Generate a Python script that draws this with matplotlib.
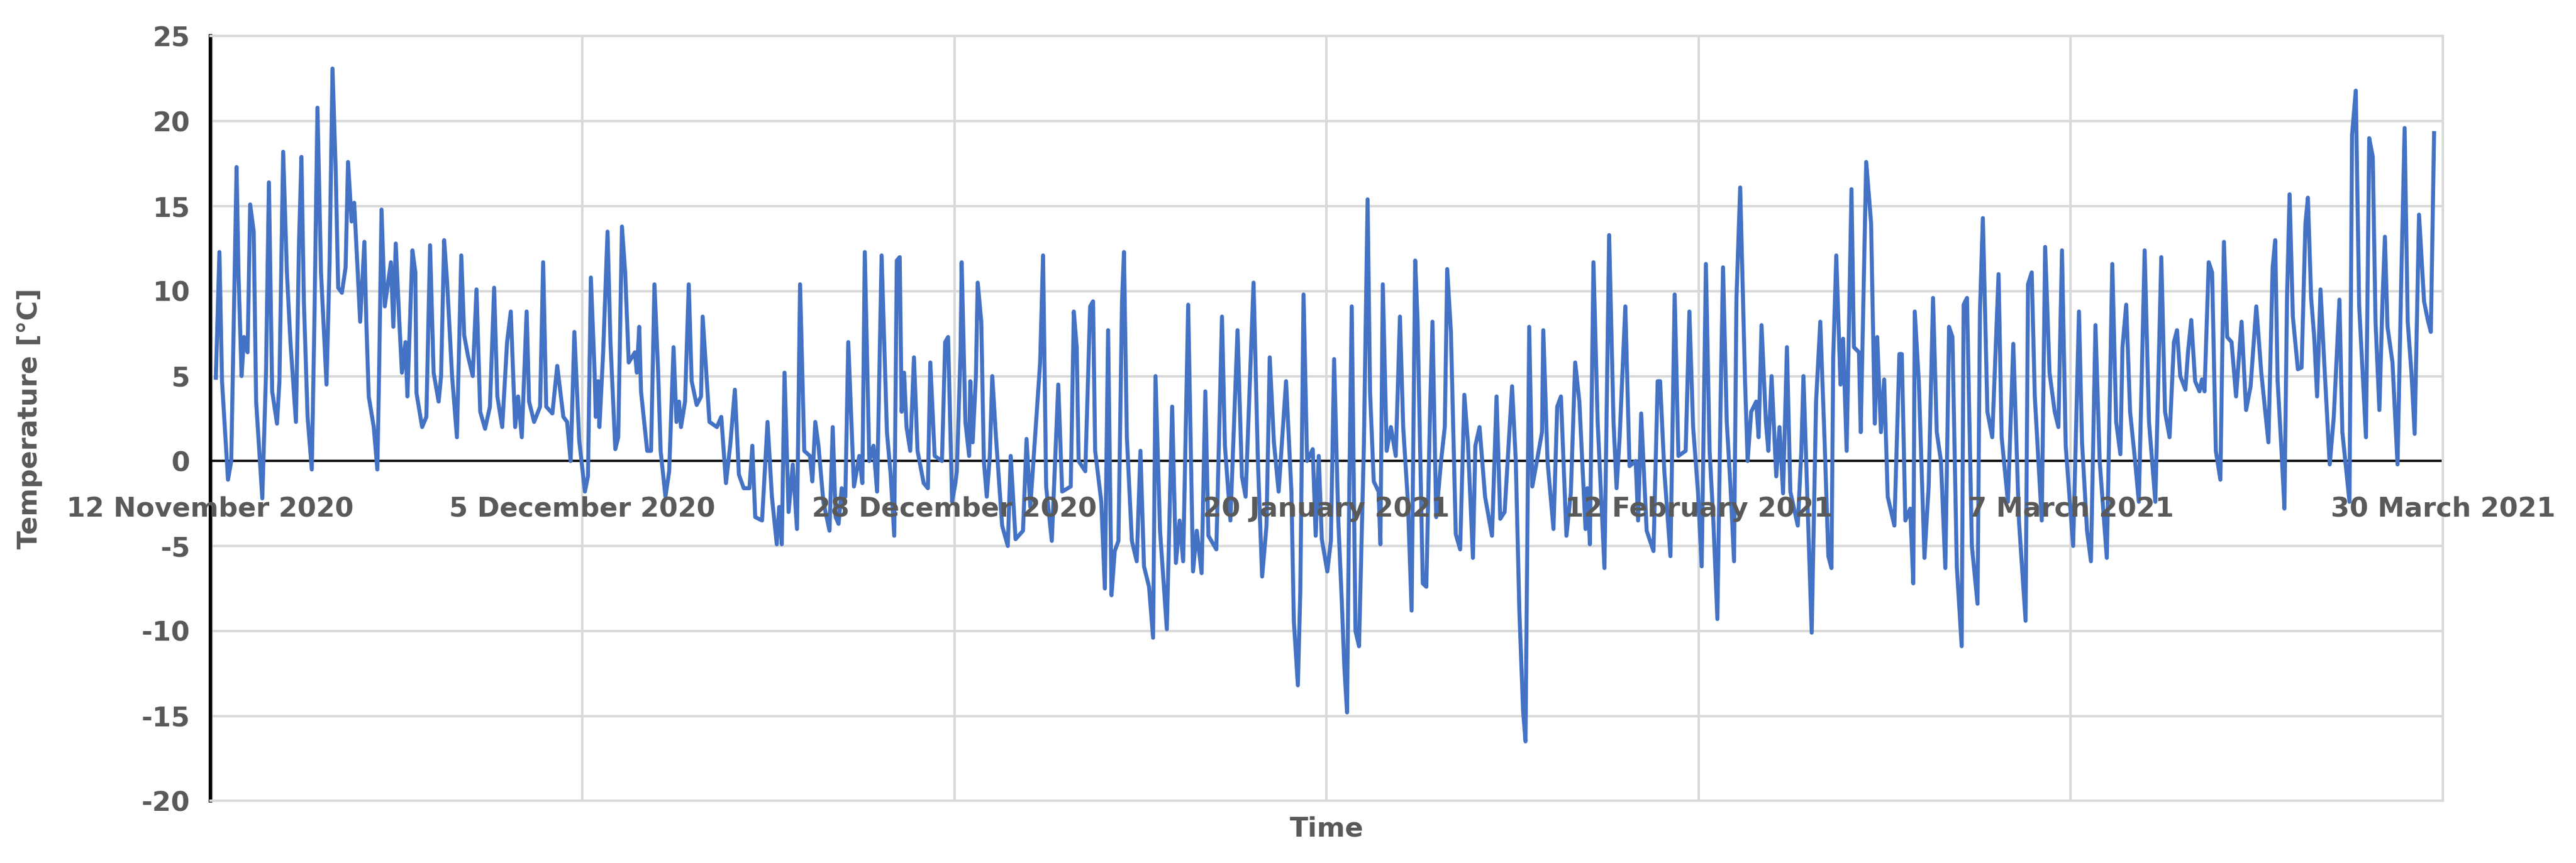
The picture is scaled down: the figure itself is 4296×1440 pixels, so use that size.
import matplotlib
matplotlib.use("Agg")
import matplotlib.pyplot as plt
import numpy as np

plt.rcParams["axes.unicode_minus"] = False

tick_days = [0, 23, 46, 69, 92, 115, 138]
tick_labels = ["12 November 2020", "5 December 2020", "28 December 2020", "20 January 2021",
               "12 February 2021", "7 March 2021", "30 March 2021"]

seg0_days = [0.35,0.57,0.73,1.10,1.30,1.63,1.75,1.94,2.09,2.31,2.47,2.69,2.84,3.22,3.45,3.63,3.83,4.13,4.28,4.51,4.74,4.96,5.30,5.49,5.64,5.79,6.02,6.28,6.44,6.63,6.85,7.19,7.38,7.56,7.76,7.91,8.14,8.37,8.52,8.74,8.90,9.12,9.27,9.53,9.65,9.80,10.11,10.33,10.44,10.59,10.79,11.17,11.32,11.47,11.69,11.85,12.07,12.19,12.50,12.68,12.75,13.10,13.36,13.59,13.81,14.12,14.27,14.46,14.64,14.95,15.25,15.52,15.70,15.93,16.23,16.46,16.69,16.99,17.29,17.55,17.75,18.05,18.35,18.58,18.85,19.03,19.26,19.56,19.71,20.02,20.39,20.58,20.77,21.15,21.45,21.83,22.06,22.28,22.51,22.81,23.16]
seg0_temp = [4.9,12.3,4.7,-1.1,0.0,17.3,11.0,5.0,7.3,6.4,15.1,13.5,3.5,-2.2,5.2,16.4,4.1,2.2,4.7,18.2,11.1,7.0,2.3,12.9,17.9,9.4,2.6,-0.5,8.2,20.8,11.1,4.5,11.7,23.1,17.0,10.2,9.9,11.4,17.6,14.1,15.2,11.1,8.2,12.9,8.2,3.8,2.0,-0.5,5.2,14.8,9.1,11.7,7.9,12.8,8.2,5.2,7.0,3.8,12.4,11.1,4.0,2.0,2.6,12.7,5.2,3.5,5.0,13.0,10.6,5.0,1.4,12.1,7.4,6.2,5.0,10.1,2.9,1.9,3.2,10.2,3.8,2.0,7.0,8.8,2.0,3.8,1.4,8.8,3.5,2.3,3.2,11.7,3.2,2.8,5.6,2.6,2.3,0.0,7.6,1.2,-1.8]

seg1_days = [23.35,23.53,23.76,23.83,23.98,24.06,24.29,24.56,24.74,25.04,25.22,25.45,25.65,25.87,26.25,26.37,26.52,26.63,27.01,27.25,27.46,27.69,27.84,28.14,28.37,28.64,28.82,28.98,29.10,29.35,29.58,29.76,30.07,30.34,30.44,30.86,31.32,31.59,31.88,32.15,32.43,32.68,32.98,33.33,33.51,33.69,34.11,34.45,34.72,35.02,35.17,35.33,35.50,35.75,36.01,36.27,36.46,36.72,37.07,37.22,37.40,37.60,37.90,38.28,38.48,38.66,38.84,39.03,39.26,39.44,39.79,40.12,40.31,40.46,40.74,41.00,41.22,41.50,41.83,42.06,42.28,42.44,42.62,42.74,42.89,43.04,43.27,43.50,43.72,44.10,44.36,44.51,44.78,45.23,45.43,45.61,45.86,46.06]
seg1_temp = [-0.9,10.8,5.2,2.6,4.7,2.0,6.4,13.5,7.0,0.7,1.4,13.8,11.1,5.8,6.4,5.2,7.9,4.1,0.6,0.6,10.4,5.2,0.6,-2.1,-0.6,6.7,2.3,3.5,2.0,3.5,10.4,4.7,3.3,3.8,8.5,2.3,2.0,2.6,-1.3,1.0,4.2,-0.8,-1.6,-1.6,0.9,-3.3,-3.5,2.3,-2.1,-4.9,-2.7,-4.9,5.2,-3.0,-0.2,-4.0,10.4,0.6,0.3,-1.2,2.3,0.9,-2.4,-4.1,2.0,-3.3,-3.7,-1.6,-2.1,7.0,-1.5,0.3,-1.3,12.3,0.0,0.9,-1.8,12.1,1.7,-0.8,-4.4,11.8,12.0,2.9,5.2,2.0,0.6,6.1,0.6,-1.3,-1.6,5.8,0.3,0.0,7.0,7.3,-2.4,-1.3]

seg2_days = [46.15,46.38,46.45,46.68,46.91,46.98,47.13,47.33,47.44,47.66,47.82,48.00,48.19,48.34,48.57,48.95,49.30,49.48,49.78,50.24,50.46,50.69,51.30,51.48,51.67,52.02,52.42,52.66,53.19,53.38,53.56,53.68,54.09,54.39,54.57,54.70,55.08,55.30,55.50,55.71,55.91,56.14,56.36,56.48,56.66,56.97,57.27,57.50,57.72,58.03,58.28,58.43,58.71,59.13,59.46,59.69,59.92,60.14,60.45,60.75,60.98,61.28,61.51,61.70,62.19,62.54,62.72,63.06,63.50,63.77,64.00,64.49,64.76,65.02,65.29,65.49,65.75,66.04,66.50,66.83,66.98,67.23,67.38,67.58,67.80,68.15,68.33,68.52,68.71,69.05]
seg2_temp = [-0.6,6.4,11.7,2.3,0.3,4.7,1.1,5.0,10.5,8.2,0.0,-2.1,0.3,5.0,1.4,-3.8,-5.0,0.3,-4.6,-4.1,1.3,-2.7,5.8,12.1,-1.5,-4.7,4.5,-1.8,-1.5,8.8,6.7,0.0,-0.6,9.1,9.4,0.6,-2.4,-7.5,7.7,-7.9,-5.3,-4.7,9.4,12.3,1.4,-4.7,-5.9,0.6,-6.2,-7.4,-10.4,5.0,-4.1,-9.9,3.2,-6.0,-3.5,-5.9,9.2,-6.5,-4.1,-6.6,4.1,-4.4,-5.2,8.5,0.9,-3.5,7.7,-0.9,-2.1,10.5,0.0,-6.8,-3.8,6.1,1.1,-1.8,4.7,-1.8,-9.4,-13.2,-7.7,9.8,0.0,0.7,-4.4,0.3,-4.6,-6.5]

seg3_days = [69.27,69.47,69.73,69.95,70.10,70.27,70.41,70.56,70.79,71.01,71.31,71.54,71.69,71.92,72.22,72.33,72.48,72.72,72.98,73.28,73.54,73.74,74.03,74.26,74.48,74.63,74.95,75.17,75.40,75.55,75.78,76.08,76.31,76.46,76.69,76.99,77.26,77.52,77.74,78.05,78.20,78.46,78.80,79.23,79.51,79.74,80.01,80.47,80.70,80.92,81.15,81.30,81.53,81.72,82.06,82.32,82.40,82.66,83.03,83.26,83.49,83.83,84.10,84.37,84.63,85.01,85.12,85.28,85.50,85.76,86.18,86.47,86.74,86.93,87.12,87.47,87.73,88.11,88.26,88.45,88.79,89.21,89.47,89.62,89.88,90.26,90.52,90.75,91.20,91.43,91.66,91.96,92.19]
seg3_temp = [-4.7,6.0,-3.5,-8.4,-12.1,-14.8,-1.5,9.1,-10.0,-10.9,0.9,15.4,4.1,-1.2,-1.8,-4.9,10.4,0.6,2.0,0.3,8.5,2.0,-2.4,-8.8,11.8,8.2,-7.2,-7.4,2.9,8.2,-3.3,0.0,2.0,11.3,7.6,-4.3,-5.2,3.9,1.1,-5.7,0.9,2.0,-2.1,-4.4,3.8,-3.4,-3.0,4.4,0.0,-8.8,-14.7,-16.5,7.9,-1.5,0.3,1.7,7.7,0.0,-4.0,3.2,3.8,-4.4,-1.9,5.8,3.5,-4.0,-1.6,-4.9,11.7,2.3,-6.3,13.3,2.3,-1.6,1.4,9.1,-0.3,0.0,-3.5,2.8,-4.1,-5.3,4.7,4.7,-0.6,-5.6,9.8,0.3,0.6,8.8,2.0,-1.8,-6.2]

seg4_days = [92.45,92.68,92.91,93.16,93.36,93.51,93.74,93.97,94.19,94.34,94.57,94.87,95.03,95.25,95.56,95.71,95.89,96.16,96.31,96.51,96.80,97.00,97.22,97.46,97.67,98.13,98.35,98.48,98.73,98.99,99.26,99.52,99.79,100.02,100.21,100.32,100.51,100.77,100.93,101.15,101.45,101.60,101.91,102.02,102.36,102.66,102.89,103.04,103.27,103.47,103.69,104.10,104.41,104.56,104.78,105.08,105.27,105.36,105.61,105.96,106.22,106.49,106.72,106.98,107.25,107.48,107.69,107.96,108.26,108.38,108.59,108.89,109.24,109.39,109.57,109.85,110.15,110.54,110.73,111.12,111.45,111.80,112.21,112.36,112.59,112.78,113.21,113.42,113.69,114.01,114.24,114.46,114.69,115.15]
seg4_temp = [11.6,0.6,-3.5,-9.3,3.5,11.4,2.3,-1.5,-5.9,9.6,16.1,4.7,0.0,2.9,3.5,1.4,8.0,2.3,0.6,5.0,-0.9,2.0,-1.9,6.7,-1.8,-3.8,0.6,5.0,-2.4,-10.1,3.5,8.2,1.1,-5.6,-6.3,6.1,12.1,4.5,7.2,0.6,16.0,6.7,6.4,1.7,17.6,14.0,2.2,7.3,1.7,4.8,-2.1,-3.8,6.3,6.3,-3.5,-2.8,-7.2,8.8,4.7,-5.7,-1.5,9.6,1.7,0.0,-6.3,7.9,7.3,-6.2,-10.9,9.2,9.6,-5.0,-8.4,8.8,14.3,2.9,1.4,11.0,1.4,-2.4,6.9,-3.5,-9.4,10.4,11.1,3.8,-3.5,12.6,5.2,2.9,2.0,12.4,0.9,-5.0]

seg5_days = [115.51,115.70,116.01,116.25,116.53,116.79,117.23,117.42,117.57,117.81,118.07,118.20,118.43,118.67,118.98,119.21,119.57,119.84,120.23,120.60,120.83,121.11,121.38,121.57,121.77,122.09,122.25,122.45,122.69,122.96,123.11,123.27,123.53,123.74,123.97,124.25,124.47,124.67,124.94,125.22,125.56,125.84,126.12,126.47,126.78,127.22,127.48,127.64,127.79,128.03,128.21,128.37,128.53,128.73,129.04,129.27,129.51,129.66,129.86,130.05,130.23,130.44,130.67,131.01,131.26,131.61,131.79,132.23,132.39,132.62,132.83,133.25,133.45,133.67,133.84,134.08,134.27,134.42,134.58,134.89,135.20,135.44,135.64,135.83,136.06,136.26,136.53,136.84,137.07,137.26,137.46]
seg5_temp = [8.8,1.1,-4.1,-5.9,8.0,0.0,-5.7,3.8,11.6,2.3,0.4,6.7,9.2,2.9,0.0,-2.4,12.4,2.3,-2.4,12.0,2.9,1.4,7.0,7.7,5.0,4.2,6.4,8.3,4.7,4.1,4.8,4.1,11.7,11.1,0.6,-1.1,12.9,7.3,7.0,3.8,8.2,3.0,4.4,9.1,5.2,1.1,11.4,13.0,4.7,0.6,-2.8,9.6,15.7,8.5,5.4,5.5,14.0,15.5,9.6,7.3,3.8,10.1,5.8,-0.2,2.6,9.5,1.7,-2.4,19.2,21.8,9.1,1.4,19.0,17.9,8.2,3.0,9.4,13.2,7.9,5.8,-0.2,11.1,19.6,8.2,5.2,1.6,14.5,9.4,8.3,7.6,19.3]

days = np.concatenate([seg0_days, seg1_days, seg2_days, seg3_days, seg4_days, seg5_days])
temps = np.concatenate([seg0_temp, seg1_temp, seg2_temp, seg3_temp, seg4_temp, seg5_temp])

grey = "#595959"
fig = plt.figure(figsize=(4296/240, 1440/240), dpi=240)
ax = fig.add_axes([0.0816, 0.072, 0.8667, 0.886])
ax.plot(days, temps, color="#4472C4", lw=2.0, zorder=3)
ax.set_xlim(0, 138)
ax.set_ylim(-20, 25)
ax.set_yticks(np.arange(-20, 26, 5))
ax.set_xticks(tick_days)
ax.set_xticklabels([])
ax.tick_params(axis="x", length=0)
ax.tick_params(axis="y", length=0, labelsize=13.5, labelcolor=grey, pad=10)
for lab in ax.get_yticklabels():
    lab.set_fontweight("bold")
ax.grid(True, color="#d9d9d9", lw=1.2, zorder=0)
ax.axhline(0, color="black", lw=1.1, zorder=2)
for s in ["top", "right", "bottom"]:
    ax.spines[s].set_color("#d9d9d9")
    ax.spines[s].set_linewidth(1.2)
ax.spines["left"].set_color("black")
ax.spines["left"].set_linewidth(1.8)
for d, lab in zip(tick_days, tick_labels):
    ax.annotate(lab, (d, 0), xytext=(0, -24), textcoords="offset points", ha="center", va="center",
                fontsize=13.5, fontweight="bold", color=grey, annotation_clip=False, zorder=4)
ax.set_ylabel("Temperature [°C]", fontsize=13.5, fontweight="bold", color=grey)
ax.yaxis.set_label_coords(-0.075, 0.5)
ax.set_xlabel("Time", fontsize=13.5, fontweight="bold", color=grey, labelpad=4)
fig.savefig("out.png", dpi=240)
